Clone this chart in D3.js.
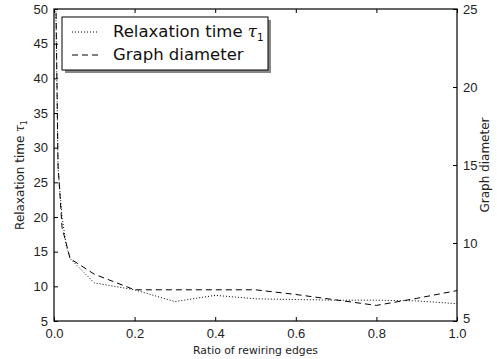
<!DOCTYPE html>
<html>
<head>
<meta charset="utf-8">
<script src="https://cdn.jsdelivr.net/npm/d3@7"></script>
<style>
  body { margin: 0; background: #fff; }
  svg { font-family: "DejaVu Sans", sans-serif; }
</style>
</head>
<body>
<script>
// rewiring ratio samples
const ratios = [0, 0.01, 0.02, 0.03, 0.04, 0.1, 0.2, 0.3, 0.4, 0.5, 0.6, 0.7, 0.8, 0.9, 1.0];
// relaxation time tau_1 (left axis)
const relaxation = [70, 27, 20, 16, 14, 10.5, 9.5, 7.8, 8.7, 8.2, 8.1, 8.0, 8.0, 7.9, 7.5];
// graph diameter (right axis)
const diameter = [35, 15, 11, 10, 9, 8, 7, 7, 7, 7, 6.7, 6.35, 6.0, 6.45, 6.95];

const xTicks = [0, 0.2, 0.4, 0.6, 0.8, 1.0];
const leftTicks = [5, 10, 15, 20, 25, 30, 35, 40, 45, 50];
const rightTicks = [5, 10, 15, 20, 25];

const W = 497, H = 359;
const margin = {top: 9, right: 40, bottom: 38, left: 54};
const width = W - margin.left - margin.right,
    height = H - margin.top - margin.bottom;

const svg = d3.select('body').append('svg')
    .attr('width', W)
    .attr('height', H);

const g = svg.append('g')
    .attr('transform', 'translate(' + margin.left + ',' + margin.top + ')');

const x = d3.scaleLinear().domain([0, 1]).range([0, width]);
const yL = d3.scaleLinear().domain([5, 50]).range([height, 0]);
const yR = d3.scaleLinear().domain([5, 25]).range([height, 0]);

svg.append('defs').append('clipPath').attr('id', 'clip')
    .append('rect').attr('width', width).attr('height', height);

const plot = g.append('g').attr('clip-path', 'url(#clip)');

const lineL = d3.line().x((d, i) => x(ratios[i])).y(d => yL(d));
const lineR = d3.line().x((d, i) => x(ratios[i])).y(d => yR(d));

plot.append('path').datum(relaxation)
    .attr('d', lineL)
    .attr('fill', 'none')
    .attr('stroke', '#000')
    .attr('stroke-width', 1)
    .attr('stroke-dasharray', '1,2');

plot.append('path').datum(diameter)
    .attr('d', lineR)
    .attr('fill', 'none')
    .attr('stroke', '#000')
    .attr('stroke-width', 1)
    .attr('stroke-dasharray', '6,4');

// axes, ticks pointing inward
const fmt1 = d3.format('.1f');
function styleAxis(sel) {
    sel.select('.domain').remove();
    sel.selectAll('line').attr('stroke', '#000');
    sel.selectAll('text').attr('fill', '#222').style('font-size', '13px');
}
g.append('g').attr('transform', 'translate(0,' + height + ')')
    .call(d3.axisBottom(x).tickValues(xTicks).tickFormat(fmt1).tickSizeInner(-4).tickPadding(8))
    .call(styleAxis);
g.append('g')
    .call(d3.axisTop(x).tickValues(xTicks).tickFormat('').tickSizeInner(-4))
    .call(styleAxis);
g.append('g')
    .call(d3.axisLeft(yL).tickValues(leftTicks).tickSizeInner(-4).tickPadding(6))
    .call(styleAxis);
g.append('g').attr('transform', 'translate(' + width + ',0)')
    .call(d3.axisRight(yR).tickValues(rightTicks).tickSizeInner(-4).tickPadding(6))
    .call(styleAxis)
    .call(a => a.selectAll('text').filter(d => d === 5).attr('dy', '0.1em'));

g.append('rect')
    .attr('width', width).attr('height', height)
    .attr('fill', 'none').attr('stroke', '#000').attr('stroke-width', 1.2);

// axis labels
svg.append('text')
    .attr('x', margin.left + width / 2).attr('y', H - 5)
    .attr('text-anchor', 'middle').style('font-size', '10.8px').attr('fill', '#222')
    .text('Ratio of rewiring edges');

const ylab = svg.append('text')
    .attr('transform', 'translate(24,' + (margin.top + height / 2 + 10) + ') rotate(-90)')
    .attr('text-anchor', 'middle').style('font-size', '12px').attr('fill', '#222');
ylab.append('tspan').text('Relaxation time ');
ylab.append('tspan').style('font-style', 'italic').style('font-family', 'DejaVu Serif').text('τ');
ylab.append('tspan').attr('dy', 3).style('font-size', '8px').text('1');

svg.append('text')
    .attr('transform', 'translate(' + (W - 8) + ',' + (margin.top + height / 2) + ') rotate(-90)')
    .attr('text-anchor', 'middle').style('font-size', '12px').attr('fill', '#222')
    .text('Graph diameter');

// legend with drop shadow
const lg = svg.append('g').attr('transform', 'translate(62,17)');
lg.append('rect').attr('x', 3).attr('y', 3).attr('width', 206).attr('height', 53).attr('fill', '#888');
lg.append('rect').attr('width', 206).attr('height', 53)
    .attr('fill', '#fff').attr('stroke', '#000').attr('stroke-width', 1);

const items = [
    {label: 'Relaxation time ', sub: true, dash: '1,2'},
    {label: 'Graph diameter', sub: false, dash: '6,4'}
];
items.forEach((it, i) => {
    const yy = 14 + i * 23;
    lg.append('line').attr('x1', 10).attr('x2', 36).attr('y1', yy + 1).attr('y2', yy + 1)
        .attr('stroke', '#000').attr('stroke-dasharray', it.dash);
    const t = lg.append('text').attr('x', 51).attr('y', yy + 6)
        .style('font-size', '16.5px').attr('fill', '#111');
    t.append('tspan').text(it.label);
    if (it.sub) {
        t.append('tspan').style('font-style', 'italic').style('font-family', 'DejaVu Serif').text('τ');
        t.append('tspan').attr('dy', 4).style('font-size', '10.5px').text('1');
    }
});
</script>
</body>
</html>
